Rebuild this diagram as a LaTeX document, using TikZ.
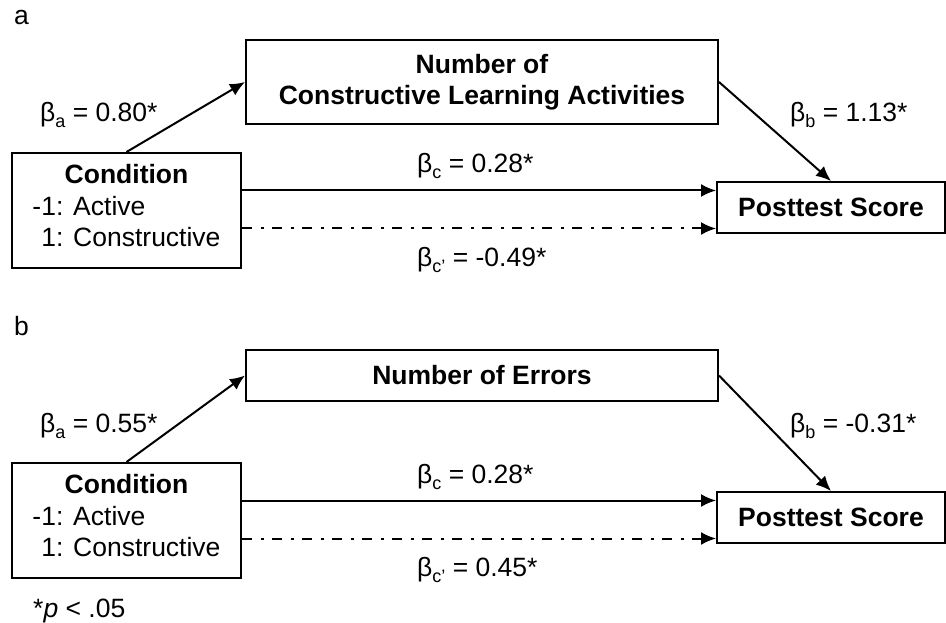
\documentclass[tikz,border=0pt]{standalone}
\usepackage{fontspec}
\setmainfont{Liberation Sans}
\usetikzlibrary{arrows.meta, calc}
\newcommand{\coefsub}[1]{\raisebox{-6pt}{\fontsize{18}{18}\selectfont #1}}
\tikzset{
    box/.style = {draw, line width=2pt, inner sep=0pt, align=center},
    link/.style = {line width=2pt, -{Latex[length=15pt,width=13pt]}},
    link-direct/.style = {link, dash pattern=on 10pt off 8.5pt on 3pt off 8.5pt},
    coef/.style = {anchor=base west, inner sep=0pt},
    tag/.style = {anchor=base west, inner sep=0pt},
}

\begin{document}
\begin{tikzpicture}[x=1pt,y=-1pt,font=\fontsize{26.5}{31.5}\selectfont]

\useasboundingbox (0,0) rectangle (946,623);

% panel a
\node[tag] (tagA) at (14,25) {a};

\node[box, minimum width=229pt, minimum height=115pt] (condA) at (126.5,210.5)
    {\textbf{Condition}\\\begin{tabular}[t]{@{}l@{}}-1: Active\\\phantom{-}1: Constructive\end{tabular}};
\node[box, minimum width=472pt, minimum height=84pt] (medA) at (482,82)
    {\textbf{Number of}\\\textbf{Constructive Learning Activities}};
\node[box, minimum width=228pt, minimum height=51pt] (postA) at (831,207.5)
    {\textbf{Posttest Score}};

\coordinate (condA-c) at ([yshift=20pt]condA.east);
\coordinate (condA-d) at ([yshift=-18pt]condA.east);

\draw[link] (condA.north) -- (medA.west);
\draw[link] (medA.east) -- (postA.north);
\draw[link] (condA-c) -- (condA-c -| postA.west);
\draw[link-direct] (condA-d) -- (condA-d -| postA.west);

\node[coef] (baA) at (40,122) {β\coefsub{a} = 0.80*};
\node[coef] (bbA) at (790,122) {β\coefsub{b} = 1.13*};
\node[coef] (bcA) at (417,173) {β\coefsub{c} = 0.28*};
\node[coef] (bdA) at (417,266) {β\coefsub{c'} = -0.49*};

% panel b
\begin{scope}[shift={(0,310)}]
\node[tag] (tagB) at (14,25) {b};

\node[box, minimum width=229pt, minimum height=115pt] (condB) at (126.5,210.5)
    {\textbf{Condition}\\\begin{tabular}[t]{@{}l@{}}-1: Active\\\phantom{-}1: Constructive\end{tabular}};
\node[box, minimum width=472pt, minimum height=51pt] (medB) at (482,65.5)
    {\textbf{Number of Errors}};
\node[box, minimum width=228pt, minimum height=51pt] (postB) at (831,207.5)
    {\textbf{Posttest Score}};

\coordinate (condB-c) at ([yshift=20pt]condB.east);
\coordinate (condB-d) at ([yshift=-18pt]condB.east);

\draw[link] (condB.north) -- (medB.west);
\draw[link] (medB.east) -- (postB.north);
\draw[link] (condB-c) -- (condB-c -| postB.west);
\draw[link-direct] (condB-d) -- (condB-d -| postB.west);

\node[coef] (baB) at (40,122) {β\coefsub{a} = 0.55*};
\node[coef] (bbB) at (790,122) {β\coefsub{b} = -0.31*};
\node[coef] (bcB) at (417,173) {β\coefsub{c} = 0.28*};
\node[coef] (bdB) at (417,266) {β\coefsub{c'} = 0.45*};

\node[tag] (note) at (33,307) {*\textit{p} < .05};
\end{scope}

\end{tikzpicture}
\end{document}
